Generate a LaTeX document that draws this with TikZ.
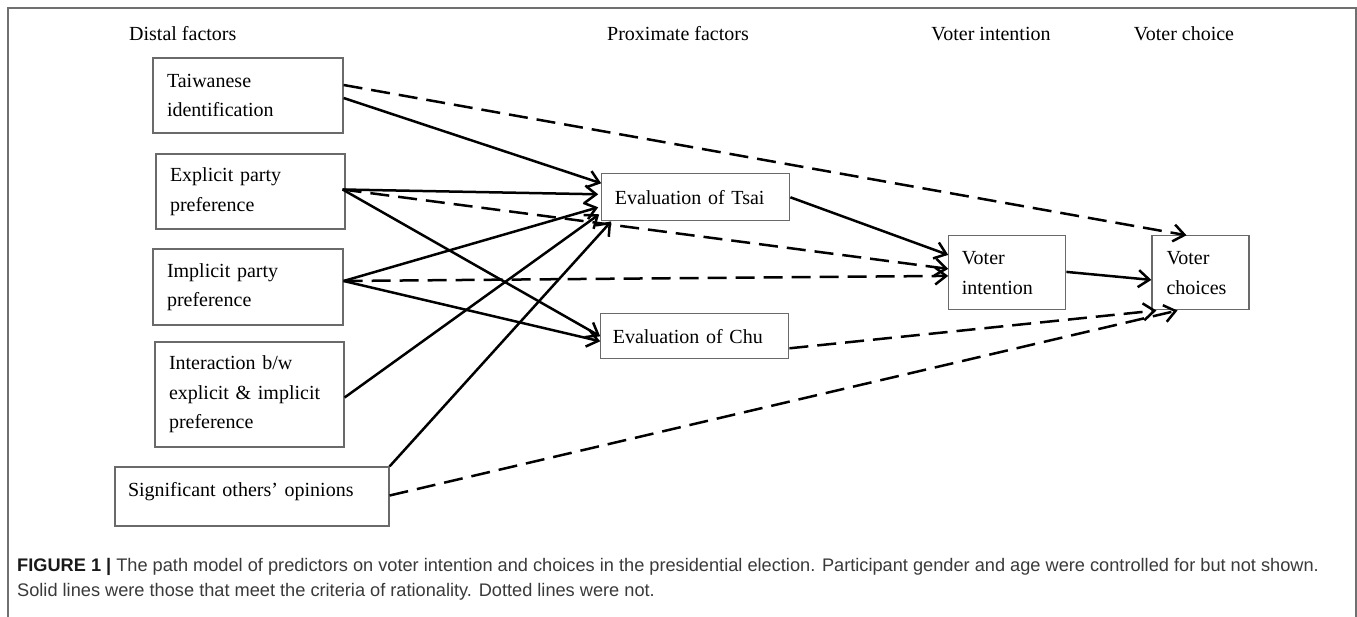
\documentclass[tikz,border=0pt]{standalone}
\usepackage{fontspec}
\setmainfont{Liberation Serif}
\newfontfamily\capfont{Liberation Sans}
\usetikzlibrary{arrows.meta,calc}
\definecolor{boxgray}{HTML}{6A6A6A}
\definecolor{framegray}{HTML}{707070}
\definecolor{captext}{HTML}{3A3A3A}
\begin{document}
\begin{tikzpicture}[x=1pt,y=-1pt,
  pbox/.style={draw=boxgray,line width=1.2pt,inner xsep=14pt,inner ysep=0pt,
    font=\fontsize{20}{29.5}\selectfont,align=left,anchor=center},
  head/.style={font=\fontsize{20}{24}\selectfont,inner sep=0pt},
  solidarr/.style={line width=2.5pt,line cap=butt,
    -{Straight Barb[length=11pt,width=17pt]}},
  dasharr/.style={solidarr,dash pattern=on 19pt off 9pt},
  capt/.style={font=\capfont\fontsize{18.2}{22}\selectfont,text=captext,inner sep=0pt,anchor=base west}
]
\useasboundingbox (0,0) rectangle (1357,617);
\fill[white] (0,0) rectangle (1357,617);
\draw[framegray,line width=1.6pt] (8,617) -- (8,8) -- (1356,8) -- (1356,617);

% headings
\node[head,anchor=base west] (hd) at (129,41) {Distal factors};
\node[head,anchor=base] (hp) at (678,41) {Proximate factors};
\node[head,anchor=base] (hi) at (991,41) {Voter intention};
\node[head,anchor=base] (hc) at (1184,41) {Voter choice};

% left boxes
\node[pbox,minimum width=190pt,minimum height=75pt,text width=162pt] (tw) at (248,95.5) {Taiwanese\\identification};
\node[pbox,minimum width=189pt,minimum height=75pt,text width=161pt] (ex) at (250.5,191.5) {Explicit party\\preference};
\node[pbox,minimum width=190pt,minimum height=76pt,text width=162pt] (im) at (248,287) {Implicit party\\preference};
\node[pbox,minimum width=189pt,minimum height=105pt,text width=161pt] (ia) at (249.5,394.5) {Interaction b/w\\explicit \& implicit\\preference};
\node[pbox,minimum width=274pt,minimum height=59pt,text width=248pt,inner xsep=13pt,text height=14pt,text depth=14pt] (sig) at (252,496.5) {Significant others’ opinions};

% proximate
\node[pbox,minimum width=188pt,minimum height=47pt,text width=162pt,inner xsep=13pt] (tsai) at (695.8,197.3) {Evaluation of Tsai};
\node[pbox,minimum width=188pt,minimum height=45pt,text width=164pt,inner xsep=12pt] (chu) at (694.8,336.3) {Evaluation of Chu};

% outcomes
\node[pbox,minimum width=117pt,minimum height=74pt,text width=91pt,inner xsep=13pt] (vi) at (1007.3,272.9) {Voter\\intention};
\node[pbox,minimum width=97pt,minimum height=74pt,text width=68pt,inner xsep=14.5pt] (vc) at (1200.5,272.9) {Voter\\choices};

% connectors
\draw[dasharr] ($(tw.east)+(0,-10.5)$) -- ($(vc.north)+(-14,0)$);
\draw[solidarr] ($(tw.east)+(0,2.5)$) -- ($(tsai.west)+(0,-14)$);

\draw[solidarr] ($(ex.east)+(-3,-2)$) -- ($(tsai.west)+(-3,-3)$);
\draw[dasharr] ($(ex.east)+(-3,-2)$) -- ($(vi.west)+(0,-4)$);
\draw[solidarr] ($(ex.east)+(-3,-2)$) -- ($(chu.west)+(0,0)$);

\draw[solidarr] ($(im.east)+(0,-6)$) -- ($(tsai.west)+(-3,10)$);
\draw[dasharr] ($(im.east)+(0,-6)$) -- ($(vi.west)+(0,3)$);
\draw[solidarr] ($(im.east)+(0,-6)$) -- ($(chu.west)+(0,5)$);

\draw[solidarr] ($(ia.east)+(0,3)$) -- ($(tsai.west)+(-2,17)$);

\draw[solidarr] (sig.north east) -- ($(tsai.south west)+(10,0)$);
\draw[dasharr] ($(sig.east)+(0,-1)$) -- ($(vc.south)+(-23,0)$);

\draw[solidarr] (tsai.east) -- ($(vi.west)+(0,-18)$);
\draw[dasharr] ($(chu.east)+(0,12)$) -- ($(vc.south west)+(5,0)$);
\draw[solidarr] ($(vi.east)+(0,-1)$) -- ($(vc.west)+(0,7)$);

% caption
\node[capt] (cap1) at (17,571) {{\color{black!90}\bfseries FIGURE 1 |} The path model of predictors on voter intention and choices in the presidential election. Participant gender and age were controlled for but not shown.};
\node[capt] (cap2) at (17,596) {Solid lines were those that meet the criteria of rationality. Dotted lines were not.};
\end{tikzpicture}
\end{document}
